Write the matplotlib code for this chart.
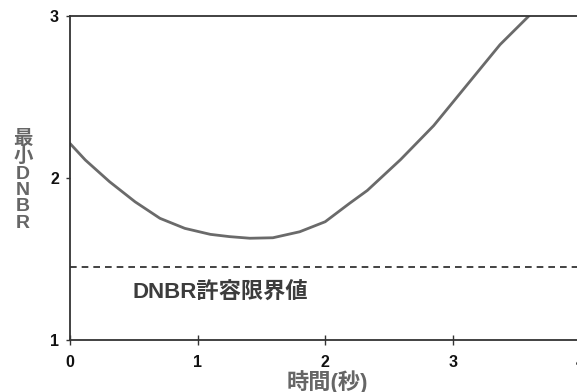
import numpy as np
import matplotlib
matplotlib.use("Agg")
import matplotlib.pyplot as plt

plt.rcParams['font.family'] = ['Liberation Sans', 'Noto Sans CJK JP', 'DejaVu Sans']

# 最小DNBRの時間変化 (秒, DNBR)
time_s = [0.0, 0.12, 0.31, 0.51, 0.705, 0.90, 1.10, 1.25, 1.41, 1.59,
          1.80, 2.00, 2.19, 2.33, 2.59, 2.85, 3.11, 3.37, 3.60]
min_dnbr = [2.21, 2.108, 1.974, 1.85, 1.748, 1.686, 1.649, 1.635, 1.625, 1.628,
            1.665, 1.727, 1.84, 1.92, 2.11, 2.32, 2.57, 2.82, 3.00]

# 許容限界値
dnbr_limit = 1.45
limit_label = "DNBR許容限界値"

x_ticks = [0, 1, 2, 3, 4]
y_ticks = [1, 2, 3]

fig = plt.figure(figsize=(5.77, 3.92), dpi=100)
ax = fig.add_axes([70 / 577, 52.5 / 392, 510.4 / 577, 324 / 392])

ax.plot(time_s, min_dnbr, color="#6a6a6a", lw=2.0, solid_joinstyle="round",
        solid_capstyle="round")
ax.axhline(dnbr_limit, color="#222222", lw=1.2, ls=(0, (4, 3)))
ax.text(0.49, 1.29, limit_label, fontsize=16, fontweight="bold",
        color="#3c3c3c", va="center", ha="left")

ax.set_xlim(0, 4)
ax.set_ylim(1, 3)
ax.set_xticks(x_ticks)
ax.set_yticks(y_ticks)

for side in ["top", "left", "bottom"]:
    ax.spines[side].set_color("#333333")
    ax.spines[side].set_linewidth(1.3)
ax.spines["right"].set_visible(False)

ax.tick_params(axis="x", direction="inout", length=7, width=1, color="#333333",
               pad=8, labelsize=11.5)
ax.tick_params(axis="y", direction="out", length=3, width=1, color="#333333",
               pad=5, labelsize=11.5)
for lbl in ax.get_xticklabels() + ax.get_yticklabels():
    lbl.set_fontweight("bold")
    lbl.set_color("#111111")

# 軸タイトル
fig.text(327 / 577, 1 - 382 / 392, "時間(秒)", fontsize=16, fontweight="bold",
         color="#666666", ha="center", va="center")
fig.text(23 / 577, 1 - 181 / 392, "\n".join("最小DNBR"), fontsize=14,
         fontweight="bold", color="#666666", ha="center", va="center",
         linespacing=0.95)

fig.savefig("out.png", dpi=100)
